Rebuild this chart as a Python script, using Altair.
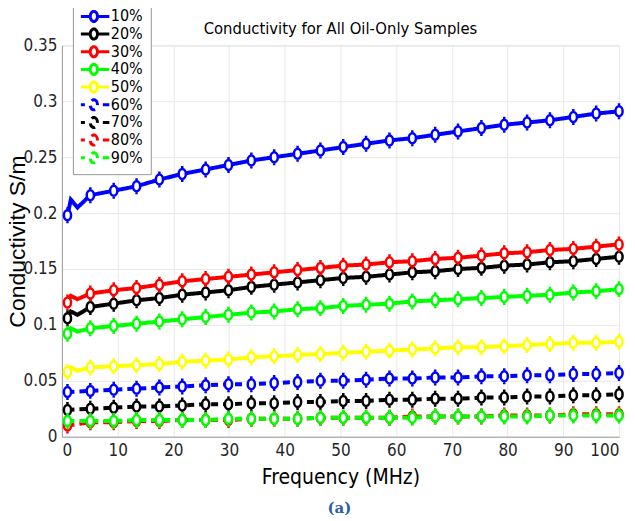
import altair as alt
import pandas as pd

# ---------------- data ----------------
series = ["10%", "20%", "30%", "40%", "50%", "60%", "70%", "80%", "90%"]
colors = ["#0000ff", "#000000", "#ff0000", "#00ff00", "#ffff00",
          "#0000ff", "#000000", "#ff0000", "#00ff00"]
dashed = [False, False, False, False, False, True, True, True, True]

freq = [1, 5.1, 9.3, 13.4, 17.5, 21.6, 25.8, 29.9, 34, 38.1, 42.3, 46.4, 50.5,
        54.6, 58.8, 62.9, 67, 71.1, 75.3, 79.4, 83.5, 87.6, 91.8, 95.9, 100]

s10 = [0.198, 0.216, 0.220, 0.224, 0.230, 0.235, 0.239, 0.243, 0.247, 0.250, 0.253, 0.256, 0.259,
       0.262, 0.265, 0.267, 0.270, 0.273, 0.276, 0.279, 0.281, 0.283, 0.286, 0.289, 0.291]
s20 = [0.106, 0.116, 0.119, 0.122, 0.124, 0.127, 0.129, 0.131, 0.134, 0.136, 0.138, 0.140, 0.142,
       0.143, 0.145, 0.147, 0.148, 0.150, 0.151, 0.153, 0.154, 0.156, 0.157, 0.159, 0.161]
s30 = [0.120, 0.128, 0.131, 0.133, 0.136, 0.139, 0.141, 0.143, 0.145, 0.147, 0.149, 0.151, 0.153,
       0.154, 0.156, 0.157, 0.159, 0.160, 0.162, 0.164, 0.165, 0.167, 0.168, 0.170, 0.172]
s40 = [0.092, 0.097, 0.099, 0.101, 0.103, 0.105, 0.107, 0.109, 0.111, 0.112, 0.114, 0.115, 0.117,
       0.118, 0.119, 0.121, 0.122, 0.123, 0.124, 0.125, 0.126, 0.127, 0.129, 0.130, 0.132]
s50 = [0.058, 0.062, 0.063, 0.064, 0.065, 0.067, 0.068, 0.069, 0.071, 0.072, 0.073, 0.074, 0.075,
       0.076, 0.077, 0.078, 0.079, 0.080, 0.080, 0.081, 0.082, 0.083, 0.084, 0.084, 0.085]
s60 = [0.040, 0.041, 0.042, 0.043, 0.044, 0.045, 0.046, 0.047, 0.047, 0.048, 0.049, 0.050, 0.050,
       0.051, 0.052, 0.052, 0.053, 0.053, 0.054, 0.054, 0.055, 0.055, 0.056, 0.056, 0.057]
s70 = [0.024, 0.025, 0.026, 0.027, 0.027, 0.028, 0.029, 0.029, 0.030, 0.030, 0.031, 0.031, 0.032,
       0.032, 0.033, 0.033, 0.034, 0.034, 0.035, 0.035, 0.036, 0.036, 0.037, 0.037, 0.038]
s80 = [0.010, 0.013, 0.013, 0.014, 0.014, 0.015, 0.015, 0.015, 0.016, 0.016, 0.016, 0.017, 0.017,
       0.017, 0.017, 0.018, 0.018, 0.018, 0.018, 0.019, 0.019, 0.019, 0.020, 0.020, 0.020]
s90 = [0.014, 0.014, 0.014, 0.015, 0.015, 0.015, 0.015, 0.016, 0.016, 0.016, 0.016, 0.017, 0.017,
       0.017, 0.017, 0.017, 0.018, 0.018, 0.018, 0.018, 0.018, 0.019, 0.019, 0.019, 0.019]
values = [s10, s20, s30, s40, s50, s60, s70, s80, s90]

# small wiggles of the solid curves just after the first sample
early_freq = [1.6, 2.8]
early_vals = {"10%": [0.212, 0.205], "20%": [0.112, 0.109], "30%": [0.126, 0.123],
              "40%": [0.097, 0.094], "50%": [0.062, 0.059]}

rows = []
for name, vals in zip(series, values):
    for f, v in zip(freq, vals):
        rows.append({"series": name, "freq": f, "value": v})
pts = pd.DataFrame(rows)
extra = [{"series": k, "freq": f, "value": v}
         for k, vs in early_vals.items() for f, v in zip(early_freq, vs)]
line_df = pd.concat([pts, pd.DataFrame(extra)], ignore_index=True)

# ---------------- styling ----------------
NARROW = "Liberation Sans Narrow, DejaVu Sans Condensed, Liberation Sans, Arial, sans-serif"
SANS = "Liberation Sans, Arial, sans-serif"

marker_path = ("M0,-1A0.72,1,0,1,1,0,1A0.72,1,0,1,1,0,-1Z"
               "M0,-1.6V-1M0,1V1.6")
# legend symbols: 1 unit = 2.5 px (symbolSize 25)
ell = "M0,-2A1.44,2,0,1,1,0,2A1.44,2,0,1,1,0,-2ZM0,-2.6V-2M0,2V2.6"
solid_sym = "M-6.2,0H-1.44M1.44,0H6.2" + ell
dash_sym = "M-6.2,0H-3.6M3.6,0H6.2" + ell
legend_shapes = [dash_sym if d else solid_sym for d in dashed]
dash_range = [[7, 5] if d else [1, 0] for d in dashed]

xs = alt.Scale(domain=[0, 100], nice=False)
ys = alt.Scale(domain=[0, 0.35], nice=False)

x_axis = alt.Axis(values=list(range(0, 101, 10)), format="d", title="Frequency (MHz)",
                  labelFont=NARROW, labelFontSize=17, labelColor="#262626", labelPadding=6,
                  titleFont=NARROW, titleFontSize=21, titleFontWeight="normal",
                  titleColor="#000000", titlePadding=8,
                  ticks=False, domainColor="#a0a0a0", gridColor="#e8e8e8")
y_axis = alt.Axis(values=[0, 0.05, 0.1, 0.15, 0.2, 0.25, 0.3, 0.35], format="~g",
                  title="Conductivity S/m",
                  labelFont=NARROW, labelFontSize=17, labelColor="#262626", labelPadding=5,
                  titleFont=SANS, titleFontSize=23, titleFontWeight="normal",
                  titleColor="#000000", titleX=-32, titleY=196,
                  ticks=False, domainColor="#a0a0a0", gridColor="#e8e8e8")

leg = dict(title=None, orient="none", legendX=11, legendY=-45, padding=8,
           labelFont=NARROW, labelFontSize=16, labelColor="#000000",
           symbolSize=25, symbolStrokeWidth=3, symbolFillColor="white",
           symbolOffset=5, labelOffset=9, rowPadding=1.7, clipHeight=16,
           strokeColor="#999999", fillColor="white", zindex=1)

# legend-only layer (draws no marks, only provides the legend)
legend_layer = alt.Chart(pts).transform_filter("false").mark_point(
    filled=False, fill="white", strokeWidth=3, opacity=1).encode(
    x=alt.X("freq:Q", scale=xs, axis=x_axis), y=alt.Y("value:Q", scale=ys, axis=y_axis),
    stroke=alt.Stroke("series:N", scale=alt.Scale(domain=series, range=colors), legend=alt.Legend(**leg)),
    shape=alt.Shape("series:N", scale=alt.Scale(domain=series, range=legend_shapes), legend=alt.Legend(**leg)),
)

lines = alt.Chart(line_df).mark_line(strokeWidth=4).encode(
    x=alt.X("freq:Q", scale=xs), y=alt.Y("value:Q", scale=ys),
    color=alt.Color("series:N", scale=alt.Scale(domain=series, range=colors), legend=None),
    strokeDash=alt.StrokeDash("series:N", scale=alt.Scale(domain=series, range=dash_range), legend=None),
    order="freq:Q",
)

points = alt.Chart(pts).mark_point(shape=marker_path, size=100, filled=False, fill="white",
                                   fillOpacity=1, strokeWidth=2.5, opacity=1).encode(
    x=alt.X("freq:Q", scale=xs), y=alt.Y("value:Q", scale=ys),
    stroke=alt.Stroke("series:N", scale=alt.Scale(domain=series, range=colors)),
)

caption = alt.Chart(pd.DataFrame({"t": ["(a)"]})).mark_text(
    font="DejaVu Serif", fontSize=15, fontWeight="bold", color="#2a5ea8").encode(
    text="t:N", x=alt.value(278), y=alt.value(463))

chart = alt.layer(legend_layer, lines, points, caption).properties(
    width=558, height=392,
    padding={"left": 54, "top": 37, "right": 8, "bottom": 84},
    autosize=alt.AutoSizeParams(type="none"),
    title=alt.TitleParams("Conductivity for All Oil-Only Samples", font=NARROW, fontSize=16.5,
                          fontWeight="normal", color="#000000", offset=8, dy=46,
                          anchor="middle"),
).configure_view(stroke=None).configure(background="white")

chart.save("out.html", embed_options={"renderer": "svg", "actions": False})
